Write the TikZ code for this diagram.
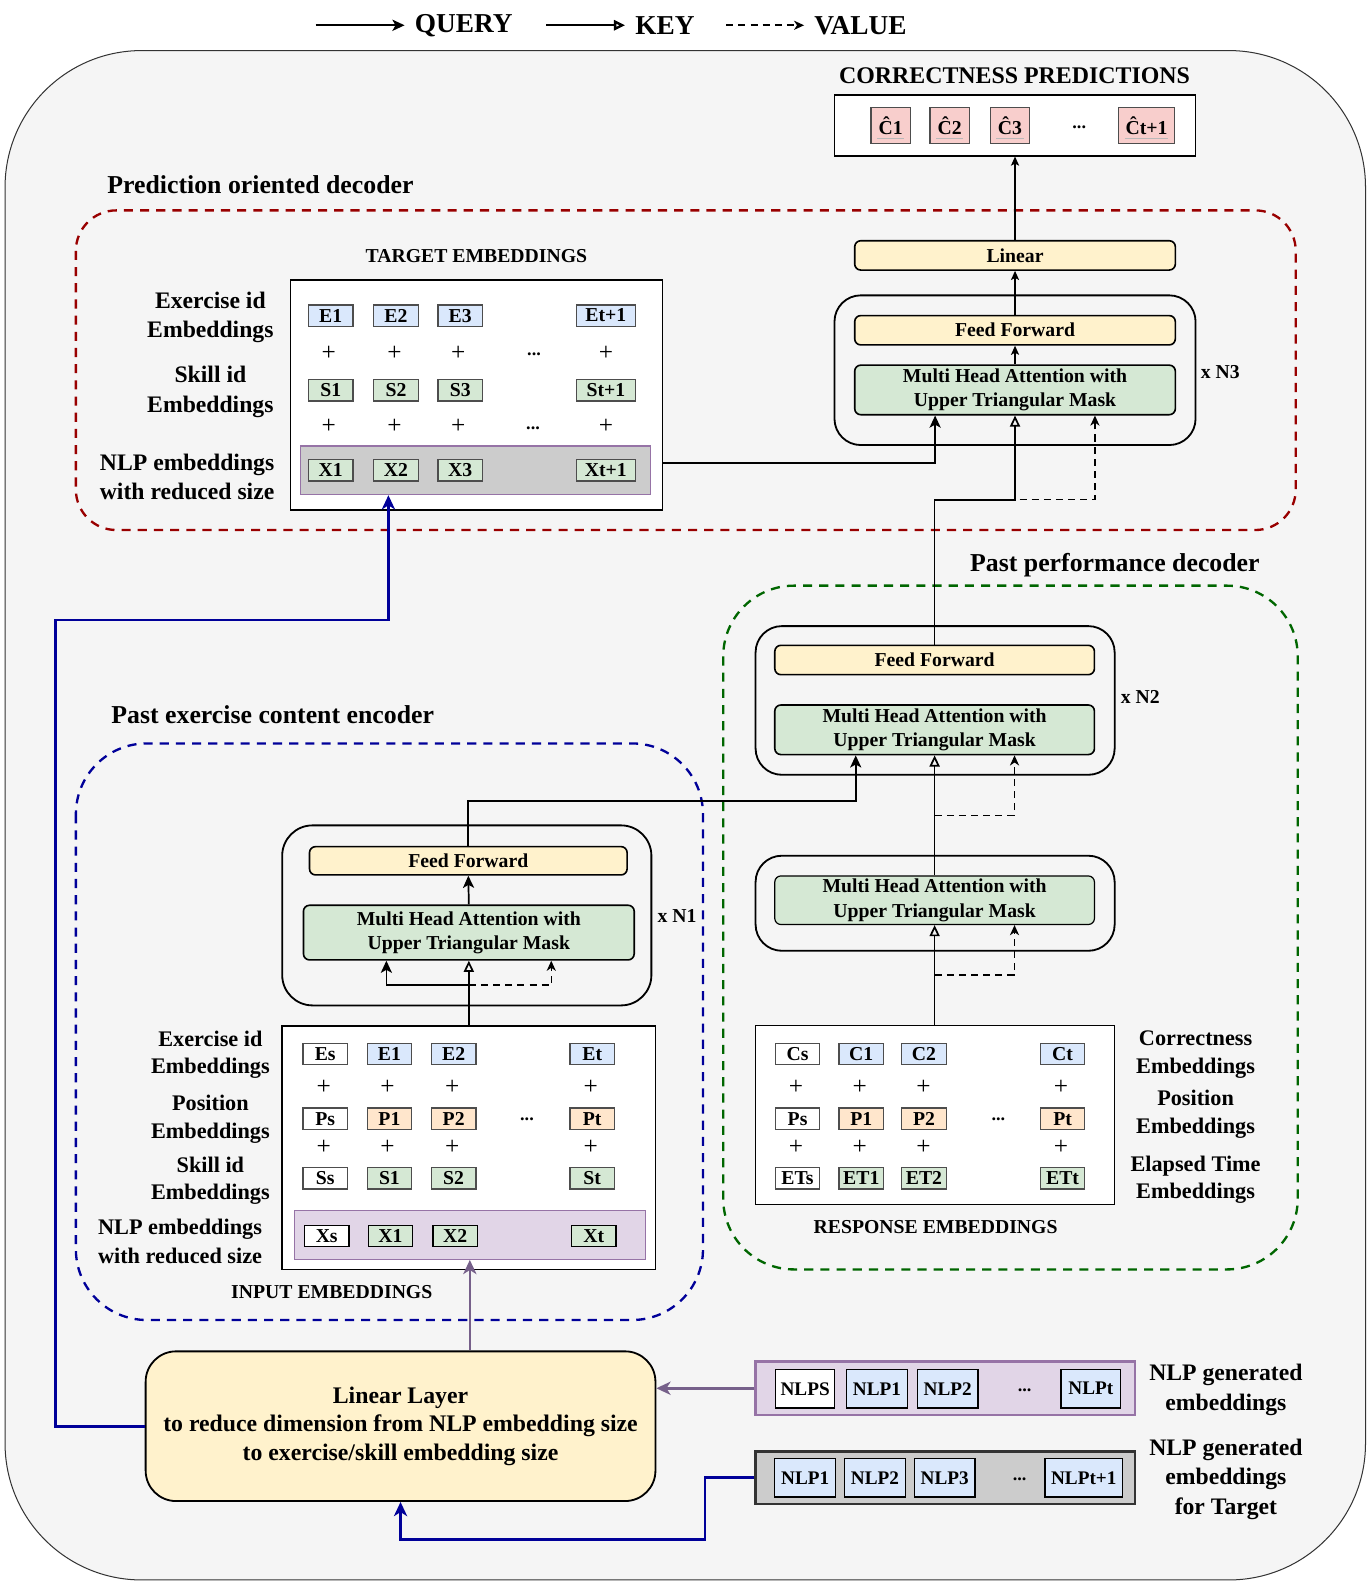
\documentclass[tikz,border=0pt]{standalone}
\usepackage{fontspec}
\setmainfont{Liberation Serif}
\usetikzlibrary{arrows.meta}
\definecolor{bgpanel}{HTML}{F5F5F5}
\definecolor{eblue}{HTML}{DAE8FC}
\definecolor{egreen}{HTML}{D5E8D4}
\definecolor{eorange}{HTML}{FFE6CC}
\definecolor{epink}{HTML}{F8CECC}
\definecolor{eyellow}{HTML}{FFF2CC}
\definecolor{epurple}{HTML}{E1D5E7}
\definecolor{purpleline}{HTML}{9673A6}
\definecolor{purplearrow}{HTML}{76608A}
\definecolor{egray}{HTML}{CCCCCC}
\definecolor{edge}{HTML}{4D4D4D}
\definecolor{navy}{HTML}{000099}
\definecolor{darkred}{HTML}{990000}
\definecolor{darkgreen}{HTML}{006600}
\newcommand\bfsz[2]{\fontsize{#1}{#2}\selectfont\bfseries}
\begin{document}
\begin{tikzpicture}[x=1pt,y=-1pt,
  emb/.style={draw=edge, line width=1.3pt, inner sep=0pt, minimum height=21pt,
    minimum width=44pt, font=\bfsz{19.5}{22}},
  pl/.style={inner sep=0pt, font=\fontsize{25}{26}\selectfont},
  dt/.style={inner sep=0pt, font=\bfsz{18}{20}},
  panel/.style={draw=black, line width=1.5pt, fill=white, inner sep=0pt},
  band/.style={draw=purpleline, line width=1.2pt, inner sep=0pt},
  layer/.style={draw=black, line width=1.6pt, rounded corners=6pt, inner sep=0pt,
    align=center, font=\bfsz{19.5}{24}},
  stack/.style={draw=black, line width=1.8pt, rounded corners=26pt, inner sep=0pt},
  grp/.style={line width=2.3pt, dash pattern=on 9pt off 7pt},
  lbl/.style={inner sep=0pt, align=center, font=\bfsz{23.4}{29}},
  ttl/.style={inner sep=0pt, font=\bfsz{25.5}{30}},
  captxt/.style={inner sep=0pt, font=\bfsz{19.5}{22}},
  q/.style={-{Stealth[length=12pt,width=11pt,inset=3pt]}, line width=1.7pt},
  k/.style={-{Triangle[open,length=11pt,width=10pt]}, line width=1.7pt},
  v/.style={-{Stealth[length=10pt,width=9pt,inset=3pt]}, line width=1.5pt, dash pattern=on 7pt off 5pt},
  small/.style={-{Stealth[length=9pt,width=8pt,inset=2pt]}, line width=1.4pt},
  nlp/.style={draw=black, line width=1.3pt, inner sep=0pt, minimum height=38pt,
    minimum width=60pt, font=\bfsz{19}{22}},
  flowb/.style={draw=navy, line width=2.6pt, -{Stealth[length=14pt,width=13pt,inset=4pt]}},
  flowp/.style={draw=purplearrow, line width=2.6pt, -{Stealth[length=14pt,width=13pt,inset=4pt]}}
]
\useasboundingbox (0,0) rectangle (1355,1568);

% background panel
\draw[draw=black!80, line width=1pt, fill=bgpanel, rounded corners=135pt] (5,50) rectangle (1350,1562);

% legend
\coordinate (lq1) at (312,25); \coordinate (lq2) at (400,25);
\coordinate (lk1) at (540,25); \coordinate (lk2) at (618,25);
\coordinate (lv1) at (718,25); \coordinate (lv2) at (795,25);
\draw[q, line width=2.4pt] (lq1) -- (lq2);
\draw[k, line width=2.4pt] (lk1) -- (lk2);
\draw[v, line width=2.4pt] (lv1) -- (lv2);
\node[anchor=west, inner sep=0pt, font=\bfsz{27}{30}] (legq) at (410,25) {QUERY};
\node[anchor=west, inner sep=0pt, font=\bfsz{27}{30}] (legk) at (628,25) {KEY};
\node[anchor=west, inner sep=0pt, font=\bfsz{27}{30}] (legv) at (805,25) {VALUE};

% group frames
\draw[grp, darkred, rounded corners=40pt] (75,208) rectangle (1281,524);
\draw[grp, darkgreen, rounded corners=70pt] (715,579) rectangle (1283,1255);
\draw[grp, navy, rounded corners=70pt] (75,735) rectangle (695,1305);
\node[ttl, anchor=west] (tpred) at (106,183) {Prediction oriented decoder};
\node[ttl, anchor=west] (tperf) at (959,559) {Past performance decoder};
\node[ttl, anchor=west] (tenc) at (110,707) {Past exercise content encoder};

% correctness predictions
\node[inner sep=0pt, font=\bfsz{23.6}{26}] (tcorr) at (1003,75) {CORRECTNESS PREDICTIONS};
\node[panel, minimum width=357, minimum height=60] (pred) at (1003.5,124) {};
\foreach \n/\x/\t/\w in {1/880.5/Ĉ1/39, 2/939/Ĉ2/39, 3/998.5/Ĉ3/39, 4/1133.5/Ĉt+1/55}{
  \node[emb, fill=epink, minimum width=\w, minimum height=36] (c\n) at (\x,124) {\t};
  \draw[gray!55, line width=1pt] ([xshift=-\w/2+6pt, yshift=-12.5pt]c\n.center) -- ([xshift=\w/2-6pt, yshift=-12.5pt]c\n.center);
}
\node[dt] (cdots) at (1067,126) {...};

% prediction oriented decoder stack
\node[layer, fill=eyellow, minimum width=317, minimum height=29] (lin) at (1003.5,252.5) {Linear};
\node[stack, minimum width=357, minimum height=148] (blk3) at (1003.5,366) {};
\node[layer, fill=eyellow, minimum width=317, minimum height=29] (ff3) at (1003.5,326.5) {Feed Forward};
\node[layer, fill=egreen, minimum width=317, minimum height=49] (mha3) at (1003.5,385.5) {Multi Head Attention with\\Upper Triangular Mask};
\node[captxt, anchor=west] (n3) at (1187,368) {x N3};
\draw[small] (lin.north) -- (pred.south);
\draw[small] (ff3.north) -- (lin.south);
\draw[small] (mha3.north) -- (ff3.south);

% target embeddings
\node[captxt] (ttgt) at (471,253) {TARGET EMBEDDINGS};
\node[panel, minimum width=368, minimum height=227] (tgt) at (471,390.5) {};
\node[band, fill=egray, minimum width=346, minimum height=48] (tgtx) at (470,465) {};
\foreach \n/\x/\t/\w in {1/327/E1/44, 2/391.5/E2/44, 3/455/E3/44, 4/599/Et+1/58}
  \node[emb, fill=eblue, minimum width=\w] (te\n) at (\x,312) {\t};
\foreach \n/\x/\t/\w in {1/327/S1/44, 2/391.5/S2/44, 3/455/S3/44, 4/599/St+1/58}
  \node[emb, fill=egreen, minimum width=\w] (ts\n) at (\x,386) {\t};
\foreach \n/\x/\t/\w in {1/327/X1/44, 2/391.5/X2/44, 3/455/X3/44, 4/599/Xt+1/58}
  \node[emb, fill=egreen, minimum width=\w] (tx\n) at (\x,465) {\t};
\foreach \x [count=\i] in {325,390,453,599}{
  \node[pl] (tpa\i) at (\x,349) {+};
  \node[pl] (tpb\i) at (\x,422) {+};
}
\node[dt] (tda) at (528,350) {...};
\node[dt] (tdb) at (527,423) {...};
\node[lbl] (tl1) at (208,313.5) {Exercise id\\Embeddings};
\node[lbl] (tl2) at (208,387.5) {Skill id\\Embeddings};
\node[lbl] (tl3) at (185,471.5) {NLP embeddings\\with reduced size};

% past performance decoder
\node[stack, minimum width=355, minimum height=147] (blk2) at (924.5,692.5) {};
\node[layer, fill=eyellow, minimum width=316, minimum height=29] (ff2) at (924,652.5) {Feed Forward};
\node[layer, fill=egreen, minimum width=316, minimum height=49] (mha2) at (924,721.5) {Multi Head Attention with\\Upper Triangular Mask};
\node[captxt, anchor=west] (n2) at (1108,689) {x N2};
\node[stack, minimum width=355, minimum height=94] (blk1) at (924.5,893) {};
\node[layer, fill=egreen, line width=1.2pt, minimum width=316, minimum height=48] (mhar) at (924,890) {Multi Head Attention with\\Upper Triangular Mask};

% response embeddings
\node[panel, line width=1.2pt, minimum width=355, minimum height=177] (resp) at (924.5,1102.5) {};
\node[captxt] (tresp) at (925,1213) {RESPONSE EMBEDDINGS};
\node[emb, fill=white] (rc0) at (788.5,1042) {Cs};
\node[emb, fill=white] (rp0) at (788.5,1106) {Ps};
\node[emb, fill=white] (ret0) at (788.5,1165) {ETs};
\foreach \n/\x/\s in {1/851.5/1, 2/913.5/2, 3/1050.5/t}{
  \node[emb, fill=eblue] (rc\n) at (\x,1042) {C\s};
  \node[emb, fill=eorange] (rp\n) at (\x,1106) {P\s};
  \node[emb, fill=egreen] (ret\n) at (\x,1165) {ET\s};
}
\foreach \x [count=\i] in {787,850,913,1049}{
  \node[pl] (rpa\i) at (\x,1075) {+};
  \node[pl] (rpb\i) at (\x,1134) {+};
}
\node[dt] (rda) at (987,1107) {...};
\node[lbl, font=\bfsz{22}{27}] (rl1) at (1182,1042.5) {Correctness\\Embeddings};
\node[lbl, font=\bfsz{22}{27}] (rl2) at (1182,1101.5) {Position\\Embeddings};
\node[lbl, font=\bfsz{22}{27}] (rl3) at (1182,1166) {Elapsed Time\\Embeddings};

% past exercise content encoder
\node[stack, minimum width=365, minimum height=178, rounded corners=30pt] (blke) at (461.5,905) {};
\node[layer, fill=eyellow, minimum width=314, minimum height=28] (ff1) at (463,851) {Feed Forward};
\node[layer, fill=egreen, minimum width=327, minimum height=54] (mha1) at (463.5,922) {Multi Head Attention with\\Upper Triangular Mask};
\node[captxt, anchor=west] (n1) at (650,906) {x N1};
\draw[q] (mha1.north) -- (ff1.south);

% input embeddings
\node[panel, line width=1.8pt, minimum width=369, minimum height=241] (inp) at (463.5,1134.5) {};
\node[band, fill=epurple, minimum width=347, minimum height=48] (inpx) at (464.5,1221) {};
\node[captxt] (tinp) at (328,1277) {INPUT EMBEDDINGS};
\node[emb, fill=white] (ie0) at (321.5,1042) {Es};
\node[emb, fill=white] (ip0) at (321.5,1106) {Ps};
\node[emb, fill=white] (is0) at (321.5,1165) {Ss};
\node[emb, fill=white, draw=black] (ix0) at (323,1222) {Xs};
\foreach \n/\x/\s in {1/385/1, 2/448.5/2, 3/585.5/t}{
  \node[emb, fill=eblue] (ie\n) at (\x,1042) {E\s};
  \node[emb, fill=eorange] (ip\n) at (\x,1106) {P\s};
  \node[emb, fill=egreen] (is\n) at (\x,1165) {S\s};
}
\foreach \n/\x/\s in {1/386/1, 2/450/2, 3/587/t}
  \node[emb, fill=egreen, draw=black] (ix\n) at (\x,1222) {X\s};
\foreach \x [count=\i] in {320,383,447,584}{
  \node[pl] (ipa\i) at (\x,1075) {+};
  \node[pl] (ipb\i) at (\x,1134) {+};
}
\node[dt] (ida) at (521,1107) {...};
\node[lbl, font=\bfsz{22}{27}] (il1) at (208,1042.5) {Exercise id\\Embeddings};
\node[lbl, font=\bfsz{22}{27}] (il2) at (208,1106.5) {Position\\Embeddings};
\node[lbl, font=\bfsz{22}{27}] (il3) at (208,1167.5) {Skill id\\Embeddings};
\node[lbl, font=\bfsz{22}{29}] (il4) at (178,1227.5) {NLP embeddings\\with reduced size};

% linear layer for NLP embeddings
\node[draw=black, line width=1.8pt, fill=eyellow, rounded corners=30pt, inner sep=0pt,
  minimum width=504, minimum height=148, align=center, font=\bfsz{23.5}{28.5}] (linl) at (396,1410)
  {Linear Layer\\to reduce dimension from NLP embedding size\\to exercise/skill embedding size};

% NLP generated embeddings
\node[draw=purpleline, line width=2.2pt, fill=epurple, inner sep=0pt, minimum width=375, minimum height=53] (nlpg) at (934.5,1372.5) {};
\node[nlp, fill=white, minimum width=58] (g0) at (796,1373) {NLPS};
\node[nlp, fill=eblue] (g1) at (867,1373) {NLP1};
\node[nlp, fill=eblue] (g2) at (937,1373) {NLP2};
\node[dt] (gd) at (1013,1374) {...};
\node[nlp, fill=eblue, minimum width=59] (g3) at (1078.5,1373) {NLPt};
\node[lbl] (gl) at (1212,1374) {NLP generated\\embeddings};

\node[draw=black!80, line width=2.4pt, fill=egray, inner sep=0pt, minimum width=375, minimum height=52] (nlpt) at (934.5,1461) {};
\node[nlp, fill=eblue] (h1) at (796,1461) {NLP1};
\node[nlp, fill=eblue] (h2) at (865,1461) {NLP2};
\node[nlp, fill=eblue] (h3) at (934,1461) {NLP3};
\node[dt] (hd) at (1008,1462) {...};
\node[nlp, fill=eblue, minimum width=77] (h4) at (1071.5,1461) {NLPt+1};
\node[lbl] (hl) at (1212,1462.5) {NLP generated\\embeddings\\for Target};

% attention inputs: prediction oriented decoder
\coordinate (j3) at (924,494);
\draw[q] (tgt.east |- 0,458) -| ([xshift=-79pt]mha3.south);
\draw[v] (j3) -| ([xshift=79pt]mha3.south);
\draw[k] (ff2.north) -- (j3) -| (mha3.south);

% attention inputs: past performance decoder
\coordinate (j2) at (924,806);
\coordinate (jq) at (463,792);
\draw[q] (ff1.north) -- (jq) -| ([xshift=-78pt]mha2.south);
\draw[v] (j2) -| ([xshift=79pt]mha2.south);
\draw[k] (mhar.north) -- (mha2.south);
\coordinate (j1) at (924,964);
\draw[v] (j1) -| ([xshift=79pt]mhar.south);
\draw[k] (resp.north -| mhar.south) -- (mhar.south);

% attention inputs: encoder
\coordinate (j0) at (463.5,974);
\draw[q] (j0) -| ([xshift=-81.5pt]mha1.south);
\draw[v] (j0) -| ([xshift=81.5pt]mha1.south);
\draw[k] (inp.north) -- (mha1.south);

% NLP embedding flows
\coordinate (bl) at (55,613);
\coordinate (bt) at (697,1522);
\draw[flowb] (linl.west) -| (bl) -| ([xshift=-86pt]tgtx.south);
\draw[flowb] (nlpt.west) -| (bt) -| (linl.south);
\draw[flowp] (inpx.south |- linl.north) -- (inpx.south);
\draw[flowp] (nlpg.west) -- (nlpg.west -| linl.east);
\end{tikzpicture}
\end{document}
